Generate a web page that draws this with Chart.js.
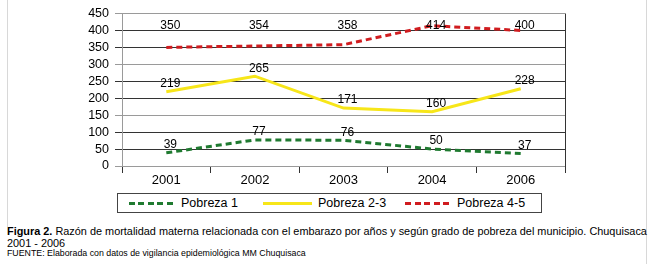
<!DOCTYPE html>
<html>
<head>
<meta charset="utf-8">
<script src="https://cdn.jsdelivr.net/npm/chart.js@4"></script>
<style>
  body { margin: 0; background: #fff; font-family: "Liberation Sans", Arial, sans-serif; }
  #page { position: relative; width: 650px; height: 264px; overflow: hidden; }
  #chart { position: absolute; left: 0; top: 0; }
  .vline { position: absolute; width: 1px; background: #d8d8d8; }
  #legend { position: absolute; left: 117px; top: 193px; width: 425px; height: 20px; box-sizing: border-box; border: 1px solid #444; font-size: 12.5px; }
  #legend .smp { position: absolute; top: 8px; height: 3px; }
  #legend .txt { position: absolute; top: 0; line-height: 18px; color: #000; white-space: nowrap; }
  #caption { position: absolute; left: 7px; top: 226px; font-size: 10.9px; line-height: 11.5px; color: #000; white-space: nowrap; }
  #fuente { position: absolute; left: 7px; top: 248px; font-size: 8.8px; color: #000; white-space: nowrap; }
</style>
</head>
<body>
<div id="page">
  <div class="vline" style="left:7px; top:0; height:227px;"></div>
  <div class="vline" style="left:646px; top:0; height:264px;"></div>
  <canvas id="chart" width="650" height="190"></canvas>
  <div id="legend"></div>
  <div id="caption"><b>Figura 2.</b> Razón de mortalidad materna relacionada con el embarazo por años y según grado de pobreza del municipio. Chuquisaca<br>2001 - 2006</div>
  <div id="fuente">FUENTE: Elaborada con datos de vigilancia epidemiológica MM Chuquisaca</div>
</div>
<script>
// años
var years = ['2001', '2002', '2003', '2004', '2006'];

// razón de mortalidad materna por grado de pobreza
var pobreza1 = [39, 77, 76, 50, 37];
var pobreza23 = [219, 265, 171, 160, 228];
var pobreza45 = [350, 354, 358, 414, 400];

var seriesNames = ['Pobreza 1', 'Pobreza 2-3', 'Pobreza 4-5'];
var yTicks = [0, 50, 100, 150, 200, 250, 300, 350, 400, 450];

var green = '#1f7a30';
var yellow = '#f7e619';
var red = '#d01c1f';
var font = "'Liberation Sans', Arial, sans-serif";

// leyenda en html
var legendItems = [
  { name: seriesNames[0], color: green, dashed: true, smp: 11, w: 47, txt: 63 },
  { name: seriesNames[1], color: yellow, dashed: false, smp: 145, w: 49, txt: 200 },
  { name: seriesNames[2], color: red, dashed: true, smp: 287, w: 48, txt: 339 }
];
var legend = document.getElementById('legend');
legendItems.forEach(function (it) {
  var s = document.createElement('span');
  s.className = 'smp';
  s.style.left = it.smp + 'px';
  s.style.width = it.w + 'px';
  s.style.background = it.dashed
    ? 'repeating-linear-gradient(90deg,' + it.color + ' 0 6px, transparent 6px 9.5px)'
    : it.color;
  legend.appendChild(s);
  var t = document.createElement('span');
  t.className = 'txt';
  t.style.left = it.txt + 'px';
  t.textContent = it.name;
  legend.appendChild(t);
});

// etiquetas de valores
var valueLabels = {
  id: 'valueLabels',
  afterDatasetsDraw: function (chart) {
    var c = chart.ctx;
    c.save();
    c.font = '12px ' + font;
    c.fillStyle = '#000';
    c.textAlign = 'center';
    c.textBaseline = 'middle';
    chart.data.datasets.forEach(function (ds, i) {
      chart.getDatasetMeta(i).data.forEach(function (pt, j) {
        var y = ds.labelTop ? chart.chartArea.top + 12.5 : pt.y - 8;
        c.fillText(ds.data[j], pt.x + 4, y);
      });
    });
    c.restore();
  }
};

// borde derecho del área
var rightBorder = {
  id: 'rightBorder',
  afterDraw: function (chart) {
    var a = chart.chartArea, c = chart.ctx;
    c.save();
    c.strokeStyle = '#333';
    c.lineWidth = 1;
    c.beginPath();
    c.moveTo(Math.round(a.right) + 0.5, a.top);
    c.lineTo(Math.round(a.right) + 0.5, a.bottom + 7);
    c.stroke();
    c.restore();
  }
};

var data = {
  labels: years,
  datasets: [
    { label: seriesNames[0], data: pobreza1, borderColor: green, borderWidth: 3, borderDash: [6, 4], pointRadius: 0, tension: 0, fill: false },
    { label: seriesNames[1], data: pobreza23, borderColor: yellow, borderWidth: 3, pointRadius: 0, tension: 0, fill: false },
    { label: seriesNames[2], data: pobreza45, borderColor: red, borderWidth: 3, borderDash: [6, 4], pointRadius: 0, tension: 0, fill: false, labelTop: true }
  ]
};

var options = {
  responsive: false,
  animation: false,
  layout: { padding: { left: 0, right: 85, top: 8, bottom: 0 } },
  plugins: {
    legend: { display: false },
    tooltip: { enabled: false },
    title: { display: false }
  },
  scales: {
    x: {
      offset: true,
      afterFit: function (s) { s.height = 24; },
      grid: { offset: true, drawOnChartArea: false, drawTicks: true, tickLength: 7, color: '#333' },
      border: { color: '#9a9a9a' },
      ticks: { color: '#000', font: { family: font, size: 13 }, padding: 0, maxRotation: 0 }
    },
    y: {
      min: 0,
      max: 450,
      afterFit: function (s) { s.width = 122; },
      afterBuildTicks: function (s) { s.ticks = yTicks.map(function (v) { return { value: v }; }); },
      grid: {
        tickLength: 7,
        color: function (ctx) {
          var v = ctx.tick ? ctx.tick.value : 0;
          return (v % 150 === 0) ? '#9a9a9a' : '#333';
        }
      },
      border: { color: '#9a9a9a' },
      ticks: { color: '#000', font: { family: font, size: 12.5 }, padding: 6, autoSkip: false }
    }
  }
};

var ctx = document.getElementById('chart');
var myChart = new Chart(ctx, {
  type: 'line',
  data: data,
  options: options,
  plugins: [valueLabels, rightBorder]
});
</script>
</body>
</html>
